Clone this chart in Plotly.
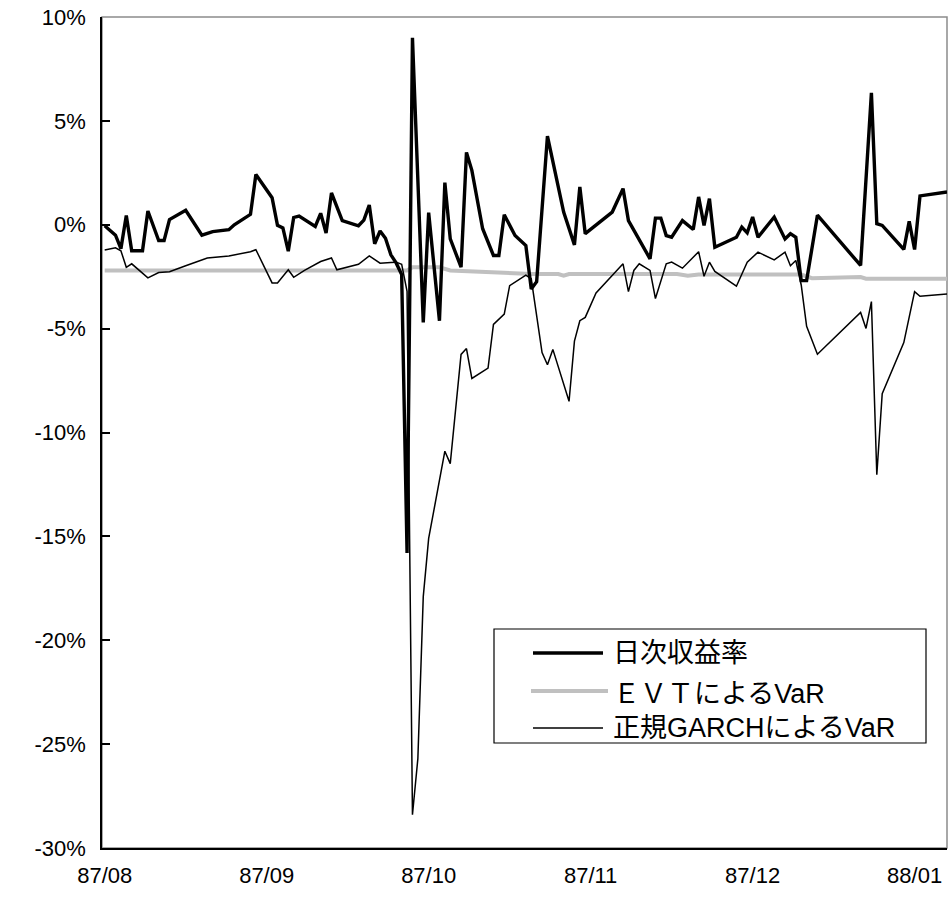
import plotly.graph_objects as go

# ---------------- data (% units) ----------------
returns_dates = [
    "1987-08-25", "1987-08-27", "1987-08-28", "1987-08-29", "1987-08-30", "1987-09-01",
    "1987-09-02", "1987-09-04", "1987-09-05", "1987-09-06", "1987-09-09", "1987-09-12",
    "1987-09-14", "1987-09-17", "1987-09-18", "1987-09-21", "1987-09-22", "1987-09-25",
    "1987-09-26", "1987-09-27", "1987-09-28", "1987-09-29", "1987-09-30", "1987-10-03",
    "1987-10-04", "1987-10-05", "1987-10-06", "1987-10-08", "1987-10-11", "1987-10-12",
    "1987-10-13", "1987-10-14", "1987-10-15", "1987-10-16", "1987-10-17", "1987-10-18",
    "1987-10-19", "1987-10-20", "1987-10-21", "1987-10-23", "1987-10-24", "1987-10-26",
    "1987-10-27", "1987-10-28", "1987-10-30", "1987-10-31", "1987-11-01", "1987-11-03",
    "1987-11-05", "1987-11-06", "1987-11-07", "1987-11-09", "1987-11-11", "1987-11-12",
    "1987-11-13", "1987-11-15", "1987-11-18", "1987-11-20", "1987-11-21", "1987-11-22",
    "1987-11-27", "1987-11-29", "1987-11-30", "1987-12-01", "1987-12-04", "1987-12-05",
    "1987-12-06", "1987-12-07", "1987-12-08", "1987-12-10", "1987-12-12", "1987-12-13",
    "1987-12-14", "1987-12-15", "1987-12-16", "1987-12-20", "1987-12-21", "1987-12-22",
    "1987-12-23", "1987-12-24", "1987-12-27", "1987-12-29", "1987-12-30", "1987-12-31",
    "1988-01-01", "1988-01-02", "1988-01-04", "1988-01-12", "1988-01-14", "1988-01-15",
    "1988-01-16", "1988-01-20", "1988-01-21", "1988-01-22", "1988-01-23", "1988-01-28",
]
returns_pct = [
    -0.05, -0.5, -1.15, 0.45, -1.25, -1.25,
    0.66, -0.76, -0.76, 0.25, 0.7, -0.5,
    -0.33, -0.24, 0.0, 0.5, 2.42, 1.3,
    -0.03, -0.15, -1.27, 0.35, 0.42, -0.08,
    0.55, -0.4, 1.53, 0.2, -0.05, 0.22,
    0.95, -0.92, -0.3, -0.65, -1.45, -1.85,
    -2.4, -15.8, 9.0, -4.7, 0.58, -4.62,
    2.03, -0.68, -2.04, 3.48, 2.62, -0.19,
    -1.48, -1.48, 0.48, -0.52, -1.0, -3.09,
    -2.74, 4.27, 0.61, -0.97, 1.82, -0.43,
    0.61, 1.74, 0.2, -0.28, -1.64, 0.32,
    0.32, -0.52, -0.6, 0.2, -0.23, 1.34,
    -0.03, 1.26, -1.08, -0.6, -0.11, -0.39,
    0.37, -0.6, 0.37, -0.68, -0.43, -0.6,
    -2.69, -2.69, 0.46, -1.96, 6.35, 0.05,
    -0.03, -1.19, 0.16, -1.19, 1.39, 1.58,
]

garch_dates = [
    "1987-08-25", "1987-08-27", "1987-08-28", "1987-08-29", "1987-08-30", "1987-09-02",
    "1987-09-04", "1987-09-06", "1987-09-09", "1987-09-13", "1987-09-17", "1987-09-21",
    "1987-09-22", "1987-09-25", "1987-09-26", "1987-09-28", "1987-09-29", "1987-10-01",
    "1987-10-04", "1987-10-06", "1987-10-07", "1987-10-11", "1987-10-13", "1987-10-15",
    "1987-10-17", "1987-10-18", "1987-10-19", "1987-10-20", "1987-10-21", "1987-10-22",
    "1987-10-23", "1987-10-24", "1987-10-27", "1987-10-28", "1987-10-30", "1987-10-31",
    "1987-11-01", "1987-11-04", "1987-11-05", "1987-11-07", "1987-11-08", "1987-11-11",
    "1987-11-12", "1987-11-14", "1987-11-15", "1987-11-16", "1987-11-19", "1987-11-20",
    "1987-11-21", "1987-11-22", "1987-11-24", "1987-11-27", "1987-11-29", "1987-11-30",
    "1987-12-01", "1987-12-02", "1987-12-04", "1987-12-05", "1987-12-07", "1987-12-08",
    "1987-12-10", "1987-12-13", "1987-12-14", "1987-12-15", "1987-12-16", "1987-12-20",
    "1987-12-22", "1987-12-24", "1987-12-27", "1987-12-29", "1987-12-30", "1987-12-31",
    "1988-01-01", "1988-01-02", "1988-01-04", "1988-01-12", "1988-01-13", "1988-01-14",
    "1988-01-15", "1988-01-16", "1988-01-20", "1988-01-22", "1988-01-23", "1988-01-28",
]
garch_pct = [
    -1.21, -1.11, -1.25, -2.05, -1.88, -2.56,
    -2.3, -2.26, -1.97, -1.6, -1.5, -1.3,
    -1.2, -2.8, -2.8, -2.17, -2.53, -2.2,
    -1.77, -1.6, -2.17, -1.9, -1.5, -1.85,
    -1.82, -1.8, -1.9, -3.2, -28.4, -25.7,
    -17.9, -15.1, -10.9, -11.5, -6.24, -5.96,
    -7.4, -6.9, -4.8, -4.3, -2.93, -2.42,
    -2.6, -6.15, -6.74, -6.0, -8.5, -5.6,
    -4.62, -4.46, -3.28, -2.45, -1.88, -3.22,
    -2.2, -1.88, -2.2, -3.55, -1.88, -1.8,
    -2.09, -1.3, -2.48, -1.8, -2.25, -2.96,
    -1.8, -1.32, -1.69, -1.32, -1.97, -1.72,
    -2.9, -4.89, -6.23, -4.22, -4.99, -3.7,
    -12.03, -8.13, -5.67, -3.22, -3.44, -3.33,
]

evt_dates = [
    "1987-08-25", "1987-10-20", "1987-10-21", "1987-10-26", "1987-10-28", "1987-11-12",
    "1987-11-17", "1987-11-18", "1987-11-19", "1987-12-09", "1987-12-11", "1987-12-13",
    "1988-01-01", "1988-01-03", "1988-01-12", "1988-01-13", "1988-01-28",
]
evt_pct = [
    -2.2, -2.2, -2.05, -2.05, -2.2, -2.37,
    -2.37, -2.45, -2.37, -2.37, -2.45, -2.4,
    -2.4, -2.57, -2.52, -2.6, -2.6,
]

series_names = ["日次収益率", "ＥＶＴによるVaR", "正規GARCHによるVaR"]
y_tick_vals = [10, 5, 0, -5, -10, -15, -20, -25, -30]
y_tick_text = ["10%", "5%", "0%", "-5%", "-10%", "-15%", "-20%", "-25%", "-30%"]
x_first_tick = "1987-08-25"
x_range = ["1987-08-24 12:00", "1988-01-28 00:00"]

# ---------------- figure ----------------
TICKFONT = "Liberation Sans, Arial, sans-serif"
FONT = "Liberation Sans, Arial, Noto Sans CJK JP, sans-serif"
W, H = 951, 904
ML, MR, MT, MB = 102, 4, 17, 56
PW, PH = W - ML - MR, H - MT - MB

fig = go.Figure()
fig.add_trace(go.Scatter(x=evt_dates, y=evt_pct, mode="lines", name=series_names[1],
                         line=dict(color="#c0c0c0", width=4), showlegend=False))
fig.add_trace(go.Scatter(x=garch_dates, y=garch_pct, mode="lines", name=series_names[2],
                         line=dict(color="black", width=1.5), showlegend=False))
fig.add_trace(go.Scatter(x=returns_dates, y=returns_pct, mode="lines", name=series_names[0],
                         line=dict(color="black", width=3.4), showlegend=False))

fig.update_xaxes(
    type="date", range=x_range, tick0=x_first_tick, dtick=30 * 86400000,
    tickformat="%y/%m", showgrid=False, zeroline=False, showline=True,
    linecolor="black", linewidth=1.5, ticks="", ticklabelstandoff=7,
    tickfont=dict(family=TICKFONT, size=22, color="black"),
)
fig.update_yaxes(
    range=[-30, 10], tickvals=y_tick_vals, ticktext=y_tick_text,
    showgrid=False, zeroline=False, showline=True, linecolor="black", linewidth=1.5,
    ticks="inside", ticklen=8, tickwidth=1.5, tickcolor="black", ticklabelstandoff=10,
    tickfont=dict(family=TICKFONT, size=22, color="black"),
)

def px(xp):
    return (xp - ML) / PW

def py(yp):
    return (H - MB - yp) / PH

shapes = [
    dict(type="rect", xref="paper", yref="paper", x0=0, x1=1, y0=0, y1=1,
         line=dict(color="#8c8c8c", width=1.5), layer="below"),
    dict(type="rect", xref="paper", yref="paper", x0=px(494), x1=px(926),
         y0=py(743), y1=py(629), line=dict(color="black", width=1.2),
         fillcolor="white", layer="above"),
    dict(type="line", xref="paper", yref="paper", x0=px(533), x1=px(603),
         y0=py(653), y1=py(653), line=dict(color="black", width=3.4)),
    dict(type="line", xref="paper", yref="paper", x0=px(531), x1=px(608),
         y0=py(691), y1=py(691), line=dict(color="#c0c0c0", width=4)),
    dict(type="line", xref="paper", yref="paper", x0=px(533), x1=px(603),
         y0=py(728), y1=py(728), line=dict(color="black", width=1.5)),
]
annotations = []
for name, yc in zip(series_names, [653, 694, 728]):
    annotations.append(dict(
        text=name, xref="paper", yref="paper", x=px(611), y=py(yc),
        xanchor="left", yanchor="middle", showarrow=False,
        font=dict(family=FONT, size=27, color="black"),
    ))

fig.update_layout(
    width=W, height=H, margin=dict(l=ML, r=MR, t=MT, b=MB),
    paper_bgcolor="white", plot_bgcolor="white",
    shapes=shapes, annotations=annotations, showlegend=False,
)

fig.write_html("out.html", config={"displayModeBar": False},
               post_script="document.body.style.margin='0';")
